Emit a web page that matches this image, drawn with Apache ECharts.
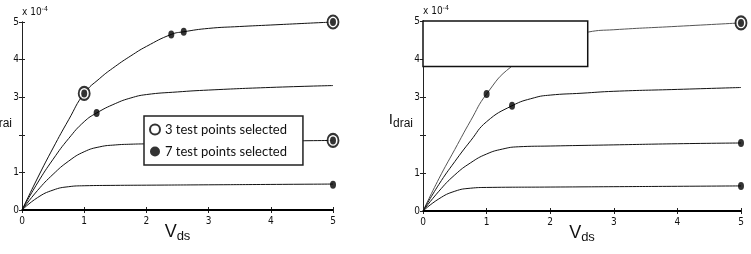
<!DOCTYPE html>
<html>
<head>
<meta charset="utf-8">
<script src="https://cdn.jsdelivr.net/npm/echarts@6/dist/echarts.min.js"></script>
<style>html,body{margin:0;background:#fff}#chart{width:751px;height:254px}</style>
</head>
<body>
<div id="chart"></div>
<script>
// axis ticks
const xTicks = [0, 1, 2, 3, 4, 5];
const yTicks = [0, 1, 2, 3, 4, 5];
const hiddenYLabel = 2;

// left panel curves [Vds, Idrain x1e-4]
const leftCurve1 = [[0,0],[0.25,0.85],[0.5,1.65],[0.75,2.4],[1,3.1],[1.25,3.5],[1.5,3.82],[1.75,4.1],[2,4.35],[2.4,4.67],[2.6,4.74],[3,4.83],[3.5,4.88],[4,4.92],[4.5,4.96],[5,5.0]];
const leftCurve2 = [[0,0],[0.25,0.72],[0.5,1.35],[0.75,1.9],[1,2.35],[1.2,2.58],[1.5,2.83],[1.75,2.98],[2,3.07],[2.5,3.14],[3,3.19],[4,3.26],[5,3.31]];
const leftCurve3 = [[0,0],[0.25,0.52],[0.5,0.95],[0.75,1.3],[1,1.55],[1.25,1.68],[1.5,1.73],[1.75,1.75],[2,1.76],[3,1.8],[4,1.83],[5,1.85]];
const leftCurve4 = [[0,0],[0.25,0.33],[0.5,0.53],[0.75,0.62],[1,0.645],[1.5,0.655],[2,0.66],[3,0.67],[4,0.68],[5,0.69]];
const leftCurve5 = [[0,0],[1,0],[2,0],[3,0],[4,0],[5,0]];
const leftRings = [[1,3.1],[5,5.0],[5,1.85]];
const leftDots = [[1,3.1],[1.2,2.58],[2.4,4.67],[2.6,4.74],[5,5.0],[5,1.85],[5,0.67]];

// right panel curves
const rightCurve1 = [[0,0],[0.25,0.85],[0.5,1.62],[0.75,2.38],[1,3.08],[1.39,3.8],[2,4.4],[2.6,4.71],[3,4.77],[4,4.86],[5,4.95]];
const rightCurve2 = [[0,0],[0.25,0.7],[0.5,1.3],[0.75,1.85],[1,2.35],[1.4,2.77],[1.75,2.98],[2,3.05],[2.5,3.1],[3,3.15],[4,3.2],[5,3.25]];
const rightCurve3 = [[0,0],[0.25,0.52],[0.5,0.95],[0.75,1.27],[1,1.5],[1.25,1.63],[1.5,1.69],[2,1.71],[3,1.74],[4,1.77],[5,1.79]];
const rightCurve4 = [[0,0],[0.25,0.32],[0.5,0.52],[0.75,0.6],[1,0.62],[2,0.63],[3,0.64],[4,0.65],[5,0.66]];
const rightCurve5 = [[0,0],[1,0],[2,0],[3,0],[4,0],[5,0]];
const rightRings = [[5,4.95]];
const rightDots = [[1,3.08],[1.4,2.77],[5,4.95],[5,1.79],[5,0.66]];

// blank box in right panel (data units)
const rightBox = { x0: 0, x1: 2.59, y0: 3.8, y1: 5 };

const ringName = '3 test points selected';
const dotName = '7 test points selected';
const tickFont = "'Liberation Sans Narrow', 'DejaVu Sans Condensed', sans-serif";

const chart = echarts.init(document.getElementById('chart'));

function axesFor(g) {
  const base = {
    type: 'value', gridIndex: g, min: xTicks[0], max: xTicks[xTicks.length - 1], interval: 1,
    axisLine: { lineStyle: { color: '#222', width: 1 } },
    axisTick: { inside: true, length: 3, lineStyle: { color: '#222' } },
    splitLine: { show: false }
  };
  const xs = [
    Object.assign({}, base, {
      position: 'bottom',
      axisLabel: { color: '#111', fontSize: 10, fontFamily: tickFont, margin: 6 },
      name: 'V{sub|ds}', nameLocation: 'middle', nameGap: 11, nameMoveOverlap: false,
      nameTextStyle: {
        color: '#111', fontFamily: 'Liberation Sans', fontSize: 18, verticalAlign: 'top', lineHeight: 22,
        rich: { sub: { fontSize: 13, fontFamily: 'Liberation Sans', verticalAlign: 'bottom', lineHeight: 22, color: '#111' } }
      }
    }),
    Object.assign({}, base, { position: 'top', axisLabel: { show: false } })
  ];
  const ybase = Object.assign({}, base, { min: yTicks[0], max: yTicks[yTicks.length - 1] });
  const ys = [
    Object.assign({}, ybase, {
      position: 'left',
      axisLabel: { color: '#111', fontSize: 10, fontFamily: tickFont, margin: 3,
        formatter: v => (v === hiddenYLabel ? '' : String(v)) },
      name: 'I{sub|drai}', nameLocation: 'middle', nameGap: 10, nameRotate: 0, nameMoveOverlap: false,
      nameTextStyle: {
        color: '#111', fontFamily: 'Liberation Sans', fontSize: 15, align: 'right', verticalAlign: 'middle', lineHeight: 20,
        padding: [8, 0, 0, 0],
        rich: { sub: { fontSize: 12, fontFamily: 'Liberation Sans', verticalAlign: 'bottom', lineHeight: 20, color: '#111' } }
      }
    }),
    Object.assign({}, ybase, { position: 'right', axisLabel: { show: false } }),
    Object.assign({}, ybase, {
      position: 'left', axisLine: { show: false }, axisTick: { show: false }, axisLabel: { show: false },
      name: 'x 10{sup|-4}', nameLocation: 'end', nameGap: 4,
      nameTextStyle: {
        color: '#111', fontFamily: tickFont, fontSize: 10, align: 'left', verticalAlign: 'bottom', lineHeight: 12,
        rich: { sup: { fontSize: 7, fontFamily: tickFont, verticalAlign: 'top', lineHeight: 12, color: '#111' } }
      }
    })
  ];
  return { xs, ys };
}

const a0 = axesFor(0), a1 = axesFor(1);

function curve(data, g, color, width) {
  return {
    type: 'line', data, xAxisIndex: g * 2, yAxisIndex: g * 3, smooth: 0.5,
    showSymbol: false, symbol: 'none', silent: true, z: 2,
    lineStyle: { color: color || '#111', width: width || 1 }
  };
}
function rings(data, g, name) {
  return {
    type: 'scatter', name, data, xAxisIndex: g * 2, yAxisIndex: g * 3, clip: false, z: 5,
    symbol: 'emptyCircle', symbolSize: [11, 13],
    itemStyle: { color: '#000', borderColor: '#000', borderWidth: 2 }
  };
}
function dots(data, g, name) {
  return {
    type: 'scatter', name, data, xAxisIndex: g * 2, yAxisIndex: g * 3, clip: false, z: 6,
    symbol: 'circle', symbolSize: [6, 8], itemStyle: { color: '#000' }
  };
}

chart.setOption({
  animation: false,
  backgroundColor: '#fff',
  grid: [
    { left: 22, right: 418, top: 22, bottom: 44, outerBoundsMode: 'none', containLabel: false },
    { left: 423, right: 10, top: 21, bottom: 43, outerBoundsMode: 'none', containLabel: false }
  ],
  xAxis: a0.xs.concat(a1.xs),
  yAxis: a0.ys.concat(a1.ys),
  legend: {
    left: 144, top: 116, orient: 'vertical',
    backgroundColor: '#fff', borderColor: '#222', borderWidth: 1.5,
    padding: [7, 16, 7, 5], itemGap: 9, itemWidth: 10, itemHeight: 11,
    textStyle: { fontFamily: 'Lato', fontSize: 13, color: '#111' },
    data: [
      { name: ringName, icon: 'emptyCircle', itemStyle: { color: '#000', borderColor: '#000', borderWidth: 2.2 } },
      { name: dotName, icon: 'circle', itemStyle: { color: '#000' } }
    ],
    selectedMode: false
  },
  series: [
    curve(leftCurve1, 0), curve(leftCurve2, 0), curve(leftCurve3, 0), curve(leftCurve4, 0), curve(leftCurve5, 0, '#000', 2),
    rings(leftRings, 0, ringName), dots(leftDots, 0, dotName),
    curve(rightCurve1, 1, '#555'), curve(rightCurve2, 1), curve(rightCurve3, 1), curve(rightCurve4, 1), curve(rightCurve5, 1, '#000', 2),
    rings(rightRings, 1, 'r-rings'), dots(rightDots, 1, 'r-dots')
  ]
});

// blank white box over the right panel
const p0 = chart.convertToPixel({ xAxisIndex: 2, yAxisIndex: 3 }, [rightBox.x0, rightBox.y1]);
const p1 = chart.convertToPixel({ xAxisIndex: 2, yAxisIndex: 3 }, [rightBox.x1, rightBox.y0]);
chart.setOption({
  graphic: [{
    type: 'rect', z: 100,
    shape: { x: p0[0], y: p0[1], width: p1[0] - p0[0], height: p1[1] - p0[1] },
    style: { fill: '#fff', stroke: '#111', lineWidth: 1.5 }
  }]
});
</script>
</body>
</html>
